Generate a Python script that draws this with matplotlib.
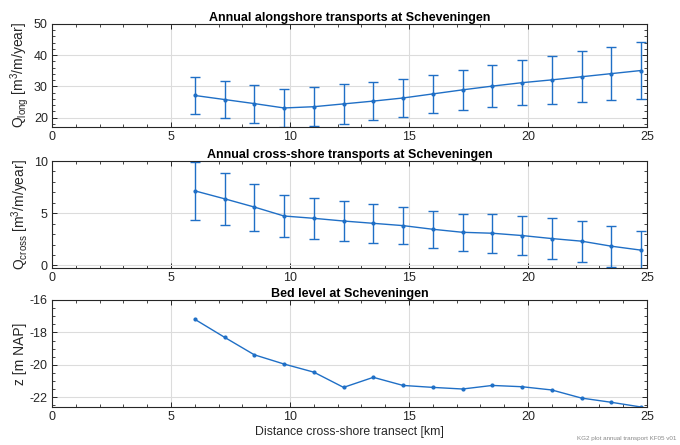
import matplotlib
matplotlib.use("Agg")
import matplotlib.pyplot as plt
from matplotlib.ticker import MultipleLocator
import numpy as np

plt.rcParams['font.family'] = ['Liberation Sans', 'DejaVu Sans']
plt.rcParams['mathtext.fontset'] = 'custom'
plt.rcParams['mathtext.rm'] = 'Liberation Sans'
plt.rcParams['mathtext.it'] = 'Liberation Sans:italic'
plt.rcParams['mathtext.bf'] = 'Liberation Sans:bold'
plt.rcParams['axes.unicode_minus'] = False

# ---- data ----
distance_km = [6.0, 7.25, 8.5, 9.75, 11.0, 12.25, 13.5, 14.75, 16.0, 17.25,
               18.5, 19.75, 21.0, 22.25, 23.5, 24.75]

q_long = [27.1, 25.8, 24.5, 23.1, 23.5, 24.4, 25.3, 26.3, 27.6, 28.9,
          30.1, 31.2, 32.1, 33.1, 34.1, 35.1]
q_long_err = [6.0, 6.0, 6.1, 6.1, 6.2, 6.3, 6.2, 6.2, 6.2, 6.4,
              6.8, 7.3, 7.6, 8.1, 8.5, 9.0]

q_cross = [7.14, 6.38, 5.59, 4.73, 4.51, 4.25, 4.03, 3.81, 3.46, 3.17,
           3.08, 2.86, 2.57, 2.32, 1.84, 1.46]
q_cross_err = [2.76, 2.5, 2.25, 2.05, 1.97, 1.9, 1.85, 1.8, 1.78, 1.8,
               1.86, 1.9, 1.96, 1.97, 1.97, 1.85]

bed_level = [-17.19, -18.30, -19.38, -19.95, -20.45, -21.39, -20.77, -21.27,
             -21.39, -21.49, -21.27, -21.35, -21.55, -22.05, -22.31, -22.60]

titles = ["Annual alongshore transports at Scheveningen",
          "Annual cross-shore transports at Scheveningen",
          "Bed level at Scheveningen"]
ylabels = [r"Q$_{\mathrm{long}}$ [m$^{\mathrm{3}}$/m/year]",
           r"Q$_{\mathrm{cross}}$ [m$^{\mathrm{3}}$/m/year]",
           "z [m NAP]"]
xlabel = "Distance cross-shore transect [km]"
watermark = "KG2 plot annual transport KF05 v01"

color = '#1f6fc6'
W, H = 680, 445
fig = plt.figure(figsize=(W / 100, H / 100), dpi=100)

def ax_at(x0, y0, x1, y1):
    return fig.add_axes([x0 / W, 1 - y1 / H, (x1 - x0) / W, (y1 - y0) / H])

axes = [ax_at(52, 24, 647, 127), ax_at(52, 161, 647, 268), ax_at(52, 300, 647, 407)]

ax1, ax2, ax3 = axes
ax1.errorbar(distance_km, q_long, yerr=q_long_err, color=color, lw=1.0,
             marker='.', ms=4, capsize=3.5, elinewidth=1.0, capthick=1.0)
ax1.set_ylim(17, 50)
ax1.set_yticks([20, 30, 40, 50])
ax1.yaxis.set_minor_locator(MultipleLocator(2))

ax2.errorbar(distance_km, q_cross, yerr=q_cross_err, color=color, lw=1.0,
             marker='.', ms=4, capsize=3.5, elinewidth=1.0, capthick=1.0)
ax2.set_ylim(-0.25, 10)
ax2.set_yticks([0, 5, 10])
ax2.yaxis.set_minor_locator(MultipleLocator(1))

ax3.plot(distance_km, bed_level, color=color, lw=1.0, marker='.', ms=4)
ax3.set_ylim(-22.6, -16)
ax3.set_yticks([-22, -20, -18, -16])
ax3.yaxis.set_minor_locator(MultipleLocator(0.5))
ax3.set_xlabel(xlabel, fontsize=8.8, labelpad=2, color='#262626')

for ax, t, yl in zip(axes, titles, ylabels):
    ax.set_xlim(0, 25)
    ax.set_xticks([0, 5, 10, 15, 20, 25])
    ax.xaxis.set_minor_locator(MultipleLocator(1))
    ax.grid(True, which='major', color='#dcdcdc', lw=0.8)
    ax.set_axisbelow(True)
    ax.tick_params(which='both', direction='in', top=True, right=True,
                   labelsize=9, colors='#262626', pad=3)
    ax.tick_params(which='major', length=3.5, width=0.7)
    ax.tick_params(which='minor', length=2, width=0.6)
    for s in ax.spines.values():
        s.set_color('#262626')
        s.set_linewidth(0.8)
    ax.set_title(t, fontsize=9, fontweight='bold', pad=2)
    ax.set_ylabel(yl, fontsize=10, labelpad=2, color='#262626')

fig.text(0.995, 0.01, watermark, fontsize=4.5, color='#888888',
         ha='right', va='bottom')

fig.savefig('out.png', dpi=100)
